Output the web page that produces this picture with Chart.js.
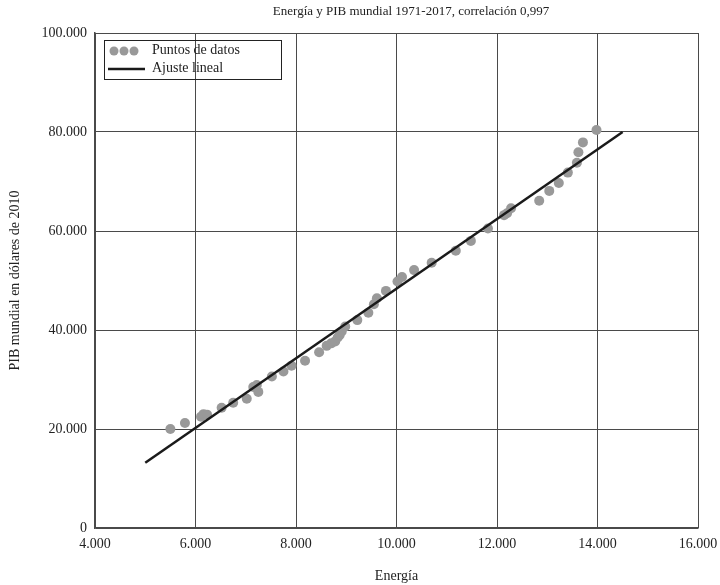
<!DOCTYPE html>
<html>
<head>
<meta charset="utf-8">
<script src="https://cdn.jsdelivr.net/npm/chart.js@4/dist/chart.umd.min.js"></script>
<style>
html,body{margin:0;padding:0;background:#fff;}
#wrap{width:720px;height:585px;position:relative;}
</style>
</head>
<body>
<div id="wrap"><canvas id="c" width="720" height="585"></canvas></div>
<script>
// ---- data ----
const energy = [5500, 5790, 6110, 6160, 6230, 6520, 6750, 7020, 7150, 7220, 7250, 7520, 7750, 7910, 8180,
  8460, 8610, 8700, 8780, 8830, 8870, 8910, 8980, 9220, 9440, 9550, 9610, 9790, 10020, 10110, 10350,
  10700, 11180, 11480, 11820, 12140, 12200, 12280, 12840, 13040, 13230, 13410, 13590, 13620, 13710, 13980];
const gdp = [20000, 21200, 22500, 23000, 22900, 24300, 25300, 26100, 28500, 28900, 27500, 30600, 31600, 32800, 33800,
  35500, 36800, 37300, 37700, 38500, 39000, 39700, 40700, 42000, 43500, 45200, 46400, 47900, 49800, 50700, 52100,
  53600, 56000, 58000, 60500, 63200, 63600, 64600, 66100, 68100, 69700, 71800, 73800, 75900, 77900, 80400];
const fitX = [5000, 14500];
const fitY = [13200, 80000];
const xTicks = [4000, 6000, 8000, 10000, 12000, 14000, 16000];
const yTicks = [0, 20000, 40000, 60000, 80000, 100000];
const titleText = 'Energía y PIB mundial 1971-2017, correlación 0,997';
const xTitle = 'Energía';
const yTitle = 'PIB mundial en dólares de 2010';
const seriesNames = ['Puntos de datos', 'Ajuste lineal'];

const FONT = '"Liberation Serif", "DejaVu Serif", serif';
const PT_COLOR = '#999999';
const LINE_COLOR = '#1a1a1a';
const GRID = '#4a4a4a';
const TXT = '#222';

function fmt(v){
  return String(Math.round(v)).replace(/\B(?=(\d{3})+(?!\d))/g, '.');
}

const titlePlugin = {
  id: 'titlePlug',
  afterDraw(chart){
    const ctx = chart.ctx;
    ctx.save();
    ctx.fillStyle = TXT;
    ctx.font = '13px ' + FONT;
    ctx.textAlign = 'center';
    ctx.textBaseline = 'middle';
    ctx.fillText(titleText, 411, 12);
    ctx.restore();
  }
};

const legendPlugin = {
  id: 'legendPlug',
  beforeDatasetsDraw(chart){
    const ctx = chart.ctx;
    const a = chart.chartArea;
    const x0 = a.left + 9, y0 = a.top + 7, w = 177, h = 39;
    ctx.save();
    ctx.strokeStyle = '#222';
    ctx.lineWidth = 1;
    ctx.strokeRect(x0 + 0.5, y0 + 0.5, w, h);
    ctx.fillStyle = PT_COLOR;
    for (let i = 0; i < 3; i++) {
      ctx.beginPath();
      ctx.arc(x0 + 10 + i * 10, y0 + 11, 4.5, 0, Math.PI * 2);
      ctx.fill();
    }
    ctx.strokeStyle = LINE_COLOR;
    ctx.lineWidth = 2.5;
    ctx.beginPath();
    ctx.moveTo(x0 + 4, y0 + 29);
    ctx.lineTo(x0 + 41, y0 + 29);
    ctx.stroke();
    ctx.fillStyle = TXT;
    ctx.font = '14px ' + FONT;
    ctx.textAlign = 'left';
    ctx.textBaseline = 'middle';
    ctx.fillText(seriesNames[0], x0 + 48, y0 + 10);
    ctx.fillText(seriesNames[1], x0 + 48, y0 + 28);
    ctx.restore();
  }
};

new Chart(document.getElementById('c'), {
  type: 'scatter',
  data: {
    datasets: [
      {
        label: seriesNames[0],
        data: energy.map((e, i) => ({x: e, y: gdp[i]})),
        backgroundColor: PT_COLOR,
        borderColor: PT_COLOR,
        pointRadius: 5,
        pointHoverRadius: 5,
        borderWidth: 0,
        order: 2
      },
      {
        type: 'line',
        label: seriesNames[1],
        data: fitX.map((e, i) => ({x: e, y: fitY[i]})),
        borderColor: LINE_COLOR,
        borderWidth: 2.5,
        pointRadius: 0,
        fill: false,
        order: 1
      }
    ]
  },
  options: {
    responsive: false,
    animation: false,
    devicePixelRatio: 1,
    layout: { padding: { top: 33, left: 0, right: 22, bottom: 0 } },
    plugins: {
      legend: { display: false },
      title: { display: false },
      tooltip: { enabled: false }
    },
    scales: {
      x: {
        type: 'linear',
        min: 4000, max: 16000,
        afterBuildTicks(s){ s.ticks = xTicks.map(v => ({value: v})); },
        afterFit(s){ s.height = 57; s.paddingRight = 0; s.paddingLeft = 0; },
        border: { display: true, color: GRID, width: 1.5 },
        grid: { color: GRID, lineWidth: 1, drawTicks: false },
        ticks: {
          color: TXT, font: { family: FONT, size: 14 }, padding: 8,
          maxRotation: 0, callback: v => fmt(v)
        },
        title: { display: true, text: xTitle, color: TXT, font: { family: FONT, size: 14 }, padding: { top: 6, bottom: 0 } }
      },
      y: {
        type: 'linear',
        min: 0, max: 100000,
        afterBuildTicks(s){ s.ticks = yTicks.map(v => ({value: v})); },
        afterFit(s){ s.width = 95; s.paddingTop = 0; s.paddingBottom = 0; },
        border: { display: true, color: GRID, width: 1.5 },
        grid: { color: GRID, lineWidth: 1, drawTicks: false },
        ticks: {
          color: TXT, font: { family: FONT, size: 14 }, padding: 8,
          callback: v => fmt(v)
        },
        title: { display: true, text: yTitle, color: TXT, font: { family: FONT, size: 14 }, padding: { top: 7, bottom: 6 } }
      }
    }
  },
  plugins: [titlePlugin, legendPlugin]
});
</script>
</body>
</html>
